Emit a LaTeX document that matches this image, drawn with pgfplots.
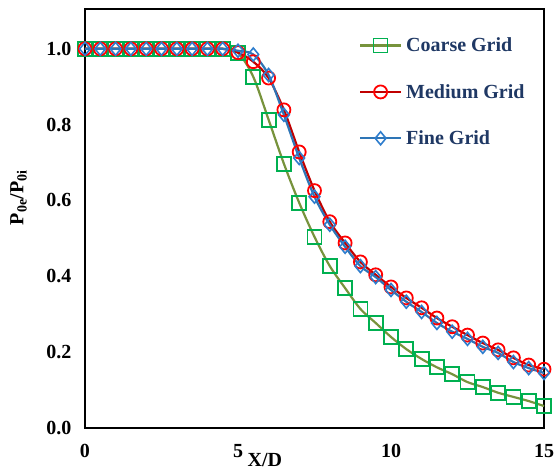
\documentclass[border=0pt]{standalone}
\usepackage{fontspec}
\setmainfont{Liberation Serif}
\usepackage{pgfplots}
\pgfplotsset{compat=1.18}
\definecolor{coarseL}{RGB}{119,147,60}
\definecolor{coarseM}{RGB}{0,176,80}
\definecolor{medL}{RGB}{192,0,0}
\definecolor{medM}{RGB}{255,0,0}
\definecolor{fineL}{RGB}{46,117,182}
\definecolor{fineM}{RGB}{46,125,205}
\definecolor{navy}{RGB}{31,56,100}
\begin{document}
\begin{tikzpicture}
\path[use as bounding box] (-85bp,-44bp) rectangle (472bp,428bp);
\begin{axis}[
  at={(0,0)}, anchor=origin,
  scale only axis, width=459bp, height=419bp,
  xmin=0, xmax=15, ymin=0, ymax=1.105,
  xtick={0,5,10,15}, ytick={0,0.2,0.4,0.6,0.8,1.0},
  major tick length=0,
  axis line style={black, line width=1.8bp},
  clip=false,
  /pgf/number format/assume math mode=true,
  yticklabel style={/pgf/number format/fixed, /pgf/number format/fixed zerofill, /pgf/number format/precision=1, xshift=-10bp},
  xticklabel style={yshift=-13bp},
  tick label style={font=\fontsize{20bp}{24bp}\selectfont\bfseries},
  xlabel={X/D},
  xlabel style={at={(rel axis cs:0.392,0)}, anchor=north, yshift=-22bp, font=\fontsize{20bp}{24bp}\selectfont\bfseries},
  ylabel={P\textsubscript{0e}/P\textsubscript{0i}},
  ylabel style={at={(rel axis cs:-0.145,0.55)}, anchor=center, font=\fontsize{20bp}{24bp}\selectfont\bfseries},
  legend cell align=left,
  legend style={draw=none, fill=none, at={(rel axis cs:0.59,0.941)}, anchor=north west,
    font=\fontsize{20bp}{24bp}\selectfont\bfseries, text=navy, row sep=27bp,
    /tikz/every odd column/.append style={column sep=2bp}},
  legend image code/.code={\draw[mark repeat=2,mark phase=2] plot coordinates {(0bp,0bp) (20.5bp,0bp) (41bp,0bp)};},
]
\addplot[smooth, tension=0.5, color=coarseL, line width=2.2bp, mark=square, mark size=7bp,
  mark options={draw=coarseM, line width=1.8bp, fill=none}] coordinates {
(0,1.0) (0.5,1.0) (1,1.0) (1.5,1.0) (2,1.0) (2.5,1.0) (3,1.0) (3.5,1.0) (4,1.0) (4.5,1.0)
(5,0.99) (5.5,0.926) (6,0.813) (6.5,0.697) (7,0.594) (7.5,0.504) (8,0.427) (8.5,0.369)
(9,0.314) (9.5,0.277) (10,0.240) (10.5,0.208) (11,0.182) (11.5,0.160) (12,0.142)
(12.5,0.121) (13,0.108) (13.5,0.093) (14,0.082) (14.5,0.071) (15,0.058)};
\addlegendentry{Coarse Grid}
\addplot[smooth, tension=0.5, color=medL, line width=2.2bp, mark=o, mark size=6.5bp,
  mark options={draw=medM, line width=1.8bp, fill=none}] coordinates {
(0,1.0) (0.5,1.0) (1,1.0) (1.5,1.0) (2,1.0) (2.5,1.0) (3,1.0) (3.5,1.0) (4,1.0) (4.5,1.0)
(5,0.99) (5.5,0.966) (6,0.923) (6.5,0.839) (7,0.728) (7.5,0.626) (8,0.544) (8.5,0.488)
(9,0.438) (9.5,0.404) (10,0.372) (10.5,0.343) (11,0.317) (11.5,0.290) (12,0.267)
(12.5,0.245) (13,0.224) (13.5,0.206) (14,0.185) (14.5,0.166) (15,0.155)};
\addlegendentry{Medium Grid}
\addplot[smooth, tension=0.5, color=fineL, line width=2.2bp, mark=diamond, mark size=6.5bp,
  mark options={draw=fineM, line width=1.6bp, fill=none, xscale=1.1}] coordinates {
(0,1.0) (0.5,1.0) (1,1.0) (1.5,1.0) (2,1.0) (2.5,1.0) (3,1.0) (3.5,1.0) (4,1.0) (4.5,1.0)
(5,0.995) (5.5,0.985) (6,0.931) (6.5,0.826) (7,0.712) (7.5,0.61) (8,0.536) (8.5,0.478)
(9,0.427) (9.5,0.398) (10,0.364) (10.5,0.333) (11,0.306) (11.5,0.277) (12,0.254)
(12.5,0.235) (13,0.214) (13.5,0.198) (14,0.174) (14.5,0.158) (15,0.145)};
\addlegendentry{Fine Grid}
\end{axis}
\end{tikzpicture}
\end{document}
